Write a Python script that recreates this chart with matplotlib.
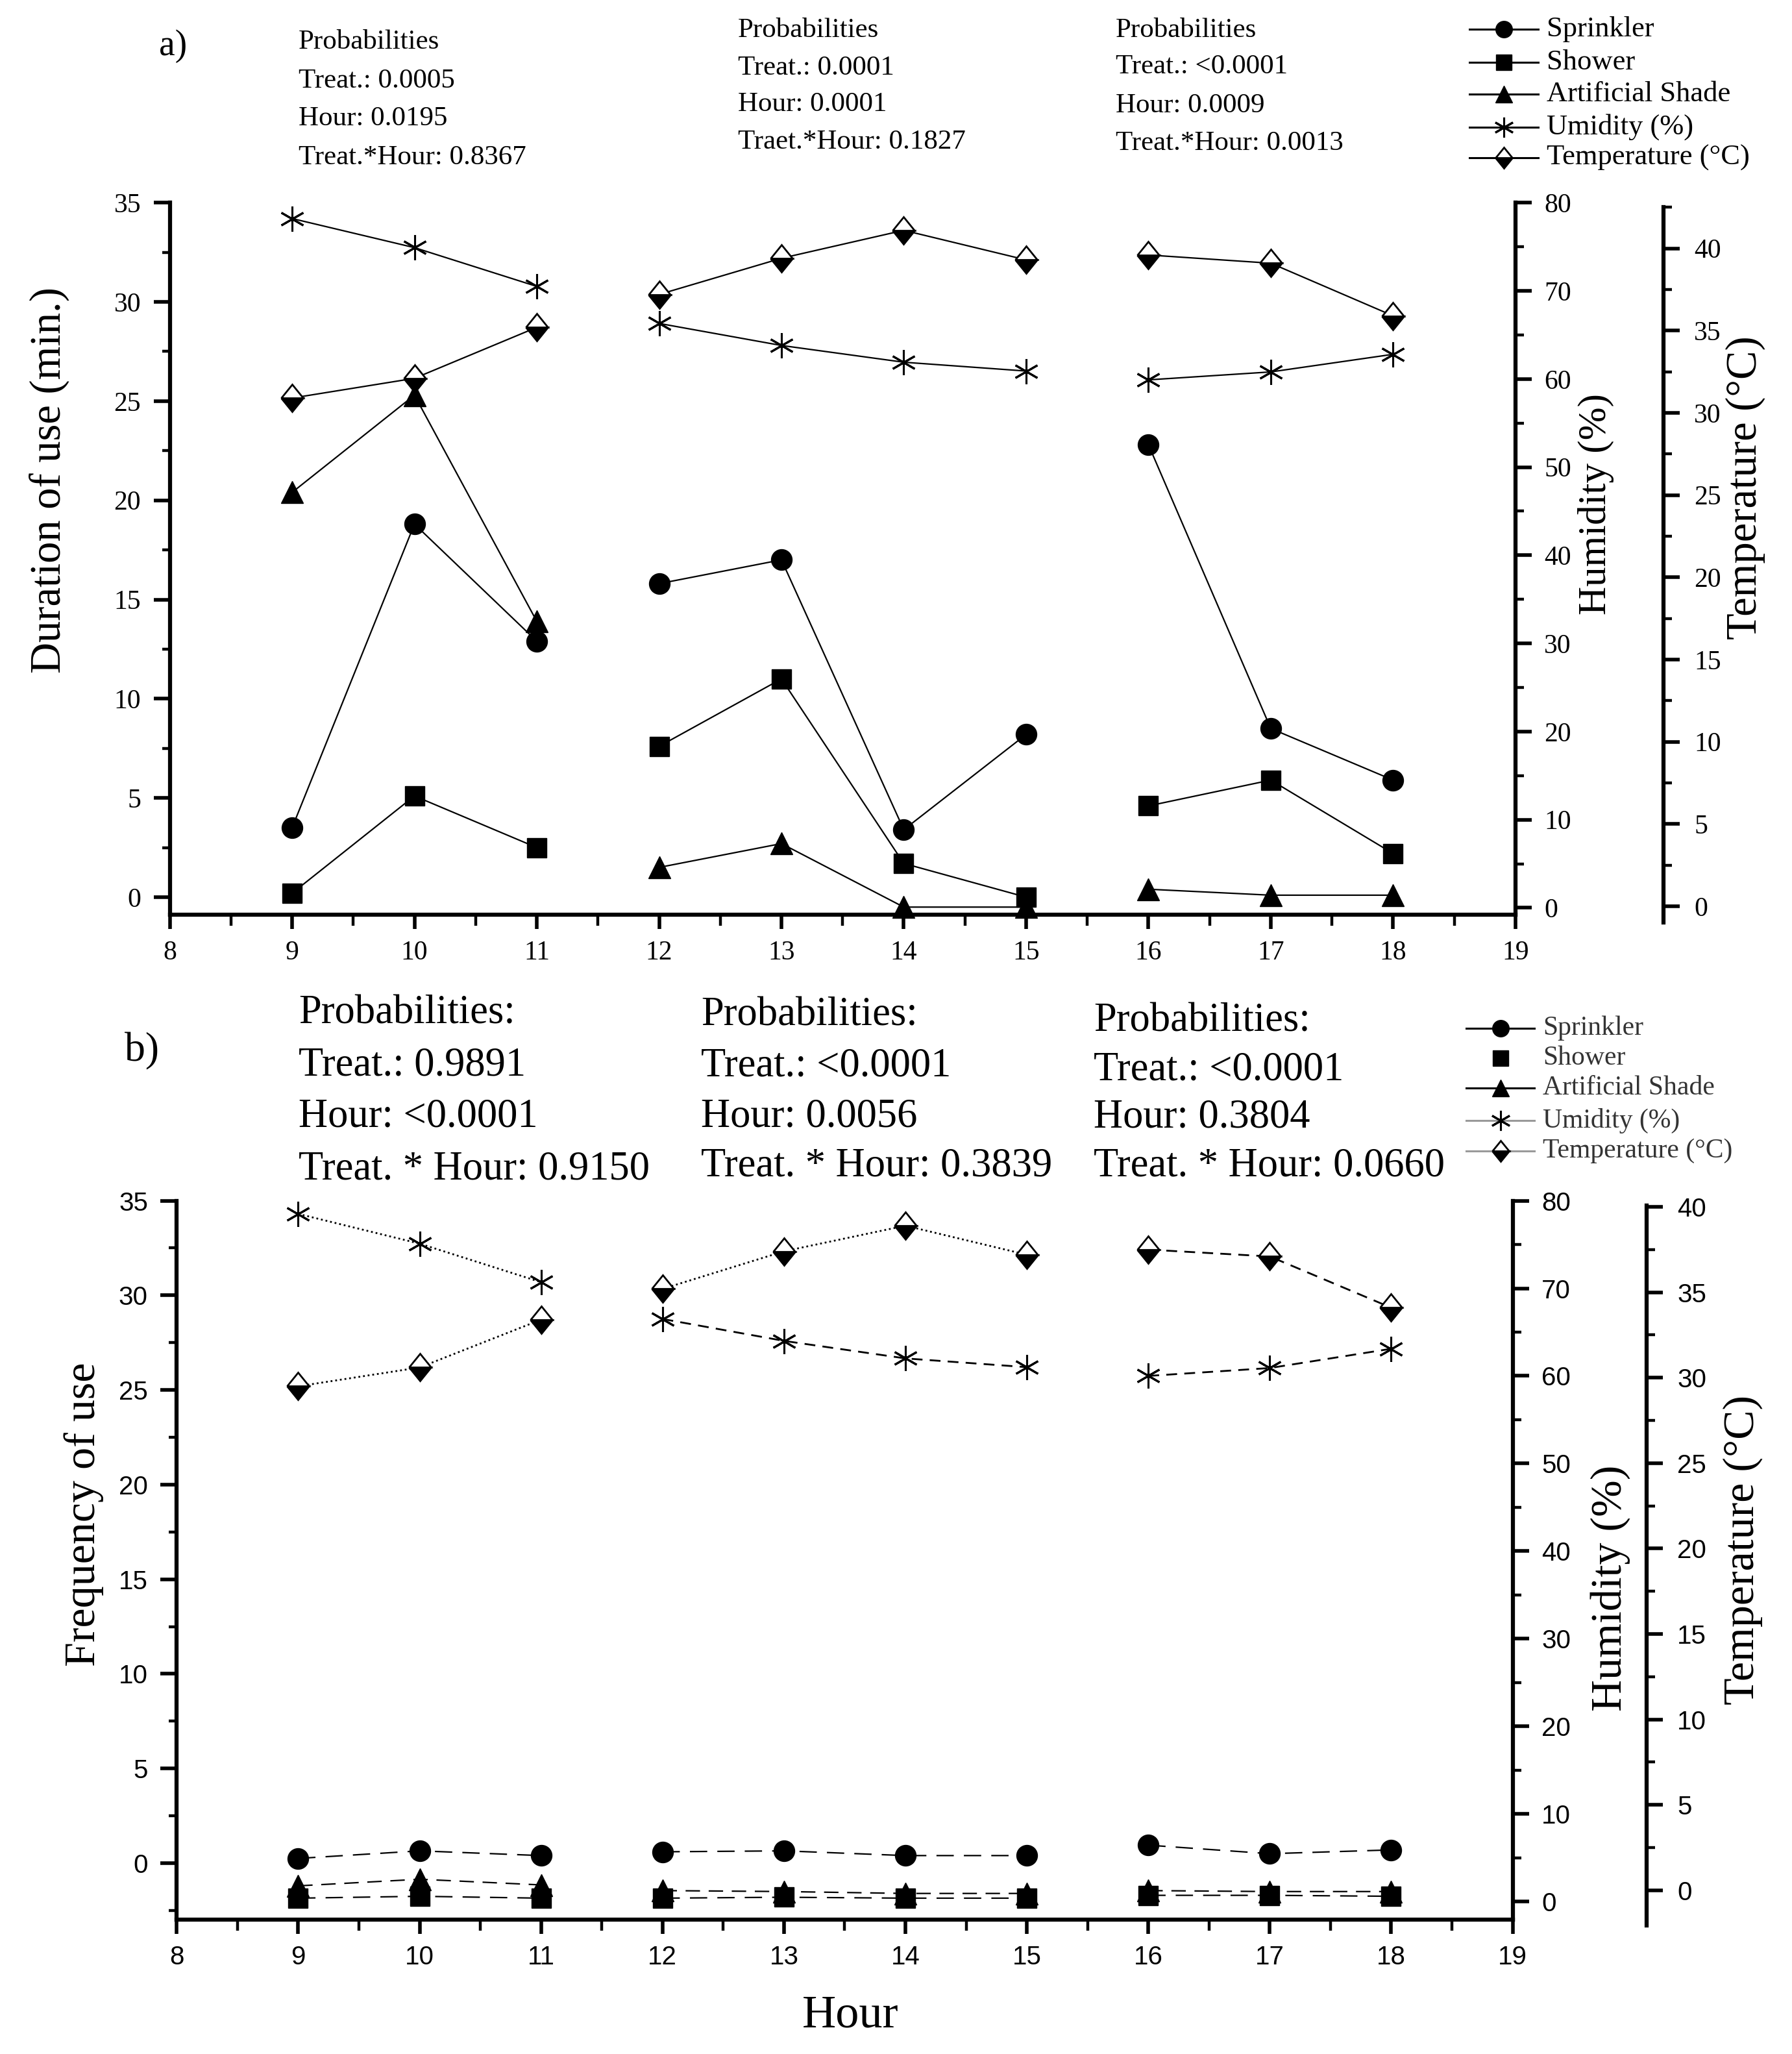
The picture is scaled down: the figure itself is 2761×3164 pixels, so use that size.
"""Duration and frequency of use of cooling resources by hour, with humidity and temperature."""

import matplotlib
matplotlib.use("Agg")
import matplotlib.pyplot as plt
from matplotlib.lines import Line2D
from matplotlib.markers import MarkerStyle
from matplotlib.ticker import MultipleLocator
from matplotlib.transforms import Affine2D

SERIF = "Liberation Serif"
SANS = "Liberation Sans"
W, H = 2761, 3164

hours = [9, 10, 11, 12, 13, 14, 15, 16, 17, 18]
blocks = [(0, 3), (3, 7), (7, 10)]  # three observation periods, not joined

# panel a: duration of use (min.)
dur_sprinkler = [3.5, 18.8, 12.9, 15.8, 17.0, 3.4, 8.2, 22.8, 8.5, 5.9]
dur_shower = [0.2, 5.1, 2.5, 7.6, 11.0, 1.7, 0.0, 4.6, 5.9, 2.2]
dur_shade = [20.4, 25.3, 13.9, 1.5, 2.7, -0.5, -0.5, 0.4, 0.1, 0.1]
hum_a = [78.2, 74.9, 70.5, 66.3, 63.8, 61.9, 60.9, 59.9, 60.8, 62.8]
temp_a = [30.9, 32.1, 35.2, 37.2, 39.4, 41.1, 39.3, 39.6, 39.1, 35.9]

# panel b: frequency of use
freq_sprinkler = [0.25, 0.65, 0.4, 0.6, 0.65, 0.4, 0.4, 0.95, 0.5, 0.7]
freq_shower = [-1.85, -1.75, -1.85, -1.85, -1.8, -1.85, -1.85, -1.7, -1.7, -1.75]
freq_shade = [-1.2, -0.85, -1.15, -1.45, -1.5, -1.6, -1.6, -1.45, -1.5, -1.5]
hum_b = [78.5, 75.1, 70.7, 66.5, 64.0, 62.0, 61.0, 60.0, 60.9, 63.1]
temp_b = [29.5, 30.6, 33.4, 35.2, 37.4, 38.9, 37.2, 37.5, 37.1, 34.1]

legend_labels = ["Sprinkler", "Shower", "Artificial Shade", "Umidity (%)", "Temperature (\u00b0C)"]

probs_a = [
    ["Probabilities", "Treat.: 0.0005", "Hour: 0.0195", "Treat.*Hour: 0.8367"],
    ["Probabilities", "Treat.: 0.0001", "Hour: 0.0001", "Traet.*Hour: 0.1827"],
    ["Probabilities", "Treat.: <0.0001", "Hour: 0.0009", "Treat.*Hour: 0.0013"],
]
probs_b = [
    ["Probabilities:", "Treat.: 0.9891", "Hour: <0.0001", "Treat. * Hour: 0.9150"],
    ["Probabilities:", "Treat.: <0.0001", "Hour: 0.0056", "Treat. * Hour: 0.3839"],
    ["Probabilities:", "Treat.: <0.0001", "Hour: 0.3804", "Treat. * Hour: 0.0660"],
]


def fx(px):
    return px / W


def fy(py):
    return 1 - py / H


DIAMOND = MarkerStyle("D", fillstyle="bottom", transform=Affine2D().scale(0.85, 1.05))
STY = {
    "sprinkler": dict(marker="o", ms=23, mfc="k", mec="k"),
    "shower": dict(marker="s", ms=21, mfc="k", mec="k"),
    "shade": dict(marker="^", ms=24, mfc="k", mec="k"),
    "hum": dict(marker=(6, 2, 0), ms=28, mew=2.2, mec="k"),
    "temp": dict(marker=DIAMOND, ms=20, mfc="k", mfcalt="w", mec="k", mew=2.0),
}


def series(ax, vals, key, ls, lw=1.6):
    if isinstance(ls, str) or isinstance(ls, tuple):
        ls = [ls] * 3
    for (i, j), style in zip(blocks, ls):
        ax.plot(hours[i:j], vals[i:j], color="k", lw=lw, linestyle=style, clip_on=False, **STY[key])


def tick_style(ax, axis, family, size, major_len=18, minor_len=9, pad=14):
    ax.tick_params(axis=axis, which="major", direction="out", length=major_len, width=4, pad=pad, labelsize=size)
    ax.tick_params(axis=axis, which="minor", direction="out", length=minor_len, width=3.2)
    labels = ax.get_xticklabels() if axis == "x" else ax.get_yticklabels()
    for lab in labels:
        lab.set_fontfamily(family)


def build_panel(fig, pos, ylim, hlim, temp_x, temp_bt, tlim, family, tick_size):
    ax = fig.add_axes(pos)
    ax.set_xlim(8, 19)
    ax.set_ylim(*ylim)
    ax.spines["top"].set_visible(False)
    ax.spines["right"].set_visible(False)
    for s in ("left", "bottom"):
        ax.spines[s].set_linewidth(4.5)
    ax.xaxis.set_major_locator(MultipleLocator(1))
    ax.xaxis.set_minor_locator(MultipleLocator(0.5))
    ax.yaxis.set_major_locator(MultipleLocator(5))
    ax.yaxis.set_minor_locator(MultipleLocator(2.5))
    ax.set_yticks(range(0, 36, 5))
    tick_style(ax, "x", family, tick_size, major_len=16, minor_len=12, pad=12)
    tick_style(ax, "y", family, tick_size)

    axh = ax.twinx()
    axh.set_ylim(*hlim)
    for s in ("left", "top", "bottom"):
        axh.spines[s].set_visible(False)
    axh.spines["right"].set_linewidth(4.5)
    axh.set_yticks(range(0, 81, 10))
    axh.yaxis.set_minor_locator(MultipleLocator(5))
    tick_style(axh, "y", family, tick_size)

    left, _, width, _ = pos
    axt = fig.add_axes([left, temp_bt[0], temp_x - left, temp_bt[1] - temp_bt[0]])
    axt.set_xlim(8, 8 + 11 * (temp_x - left) / width)
    axt.set_ylim(*tlim)
    axt.patch.set_visible(False)
    for s in ("left", "top", "bottom"):
        axt.spines[s].set_visible(False)
    axt.spines["right"].set_linewidth(4.5)
    axt.xaxis.set_visible(False)
    axt.yaxis.tick_right()
    axt.set_yticks(range(0, 41, 5))
    axt.yaxis.set_minor_locator(MultipleLocator(2.5))
    tick_style(axt, "y", family, tick_size, pad=16)
    return ax, axh, axt


def legend_rows(fig, ys, x0, x1, xt, fs, panel_b=False):
    keys = ["sprinkler", "shower", "shade", "hum", "temp"]
    for key, y, lab in zip(keys, ys, legend_labels):
        color = "k"
        ls = "-"
        if panel_b and key == "shower":
            ls = "none"
        if panel_b and key in ("hum", "temp"):
            color = "#9a9a9a"
        style = dict(STY[key])
        style["ms"] = style["ms"] * 0.8
        ln = Line2D([fx(x0), fx((x0 + x1) / 2), fx(x1)], [fy(y)] * 3, transform=fig.transFigure,
                    color=color, lw=2.2, linestyle=ls, markevery=[1], **style)
        fig.add_artist(ln)
        fig.text(fx(xt), fy(y), lab, family=SERIF, fontsize=fs, ha="left", va="center",
                 color="#333333" if panel_b else "k")


def prob_blocks(fig, blocks_txt, xs, ys, fs):
    for txt, x, yy in zip(blocks_txt, xs, ys):
        for line, y in zip(txt, yy):
            fig.text(fx(x), fy(y), line, family=SERIF, fontsize=fs, ha="left", va="center")


fig = plt.figure(figsize=(W / 100, H / 100), dpi=100)

# ---- panel a
pos_a = [fx(261.6), fy(1409.2), fx(2334.9) - fx(261.6), fy(312.2) - fy(1409.2)]
ax, axh, axt = build_panel(fig, pos_a, (-0.89, 35), (-0.79, 79.9), fx(2563), (fy(1420.8), fy(318.8)),
                           (-0.98, 42.52), SERIF, 30)
series(ax, dur_sprinkler, "sprinkler", "-")
series(ax, dur_shower, "shower", "-")
series(ax, dur_shade, "shade", "-")
series(axh, hum_a, "hum", "-")
series(axt, temp_a, "temp", "-")

fig.text(fx(267), fy(71), "a)", family=SERIF, fontsize=40, ha="center", va="center")
prob_blocks(fig, probs_a, [460, 1137, 1719],
            [[65, 125, 183, 243], [47, 105, 161, 219], [47, 103, 163, 221]], 31)
legend_rows(fig, [44.6, 96, 145, 196, 243], 2264, 2370, 2383, 32)
fig.text(fx(76), fy(740), "Duration of use (min.)", family=SERIF, fontsize=48, rotation=90, ha="center", va="center")
fig.text(fx(2459), fy(777), "Humidity (%)", family=SERIF, fontsize=44, rotation=90, ha="center", va="center")
fig.text(fx(2689), fy(751), "Temperature (\u00b0C)", family=SERIF, fontsize=48, rotation=90, ha="center", va="center")

# ---- panel b
pos_b = [fx(272.3), fy(2956.9), fx(2330.6) - fx(272.3), fy(1849.6) - fy(2956.9)]
bx, bxh, bxt = build_panel(fig, pos_b, (-2.98, 35), (-2.06, 80), fx(2537), (fy(2965.6), fy(1856.5)),
                           (-2.05, 40.1), SANS, 29)
series(bx, freq_sprinkler, "sprinkler", (0, (12, 7)))
series(bx, freq_shower, "shower", (0, (12, 7)))
series(bx, freq_shade, "shade", (0, (10, 6)))
series(bxh, hum_b, "hum", [(0, (1, 1.6)), (0, (6, 4)), (0, (6, 4))], lw=2)
series(bxt, temp_b, "temp", [(0, (1, 1.6)), (0, (1, 1.6)), (0, (6, 4))], lw=2)

fig.text(fx(218), fy(1619), "b)", family=SERIF, fontsize=46, ha="center", va="center")
prob_blocks(fig, probs_b, [460, 1080, 1685],
            [[1561, 1641, 1721, 1802], [1565, 1643, 1721, 1797], [1573, 1648, 1722, 1797]], 45)
legend_rows(fig, [1584, 1630, 1676, 1726, 1773], 2259, 2364, 2377, 30, panel_b=True)
fig.text(fx(129), fy(2333), "Frequency of use", family=SERIF, fontsize=49, rotation=90, ha="center", va="center")
fig.text(fx(2481), fy(2446), "Humidity (%)", family=SERIF, fontsize=49, rotation=90, ha="center", va="center")
fig.text(fx(2685), fy(2387), "Temperature (\u00b0C)", family=SERIF, fontsize=49, rotation=90, ha="center", va="center")
fig.text(fx(1310), fy(3105), "Hour", family=SERIF, fontsize=52, ha="center", va="center")

fig.savefig("out.png", dpi=100, facecolor="white")
